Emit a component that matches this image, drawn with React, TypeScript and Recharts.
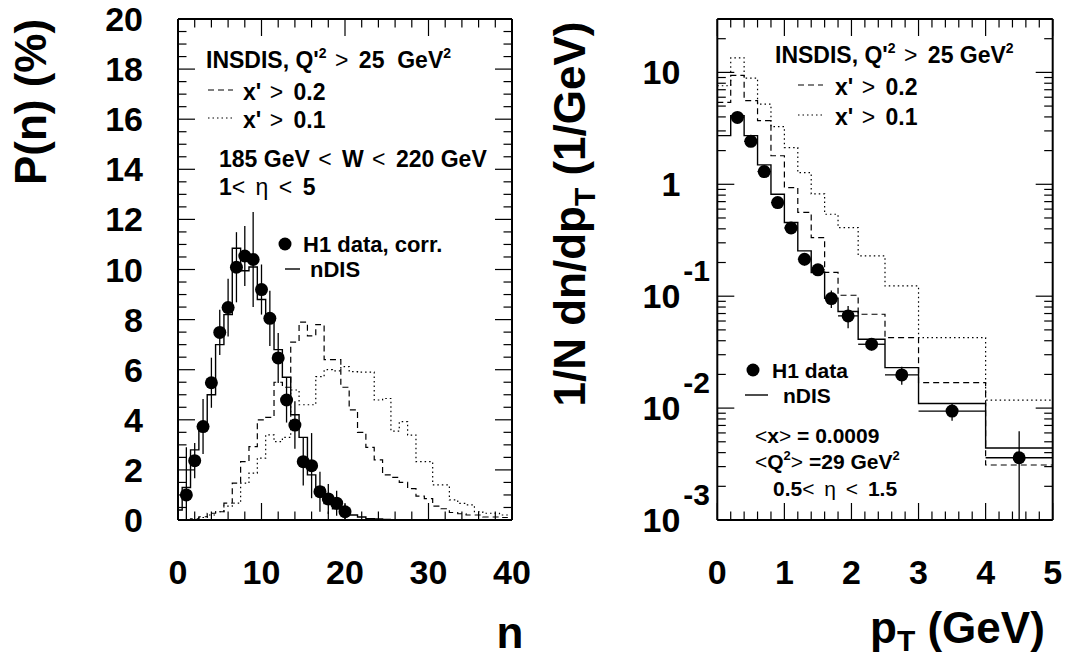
import React from 'react';
import { ComposedChart, Line, Scatter, ErrorBar, XAxis, YAxis } from 'recharts';

const FONT = '"Liberation Sans", Arial, Helvetica, sans-serif';

// ---------- left panel: charged multiplicity P(n) ----------
const multN = [1, 2, 3, 4, 5, 6, 7, 8, 9, 10, 11, 12, 13, 14, 15, 16, 17, 18, 19, 20];
const multData = [1.0, 2.37, 3.73, 5.48, 7.49, 8.48, 10.09, 10.54, 10.4, 9.2, 8.05, 6.47, 4.79, 3.79, 2.33, 2.17, 1.13, 0.84, 0.67, 0.33];
const multErr = [1.9, 0.7, 1.1, 1.0, 0.9, 1.15, 1.4, 1.2, 1.9, 1.0, 1.1, 1.0, 0.9, 0.95, 0.95, 1.3, 0.8, 0.6, 0.5, 0.3];
// histograms, one value per n = 0,1,2,...
const multNdis = [0.4, 1.3, 2.8, 3.6, 5.0, 7.0, 8.2, 10.85, 9.95, 10.1, 8.8, 8.0, 6.8, 5.7, 4.2, 3.3, 1.8, 1.3, 0.66, 0.45, 0.25, 0.2, 0.12, 0.05, 0.04, 0.02];
const multX02 = [0, 0, 0.05, 0.13, 0.27, 0.33, 0.67, 1.47, 2.33, 2.93, 4.0, 4.1, 5.5, 5.3, 7.1, 7.9, 7.35, 7.8, 6.4, 6.4, 5.3, 4.4, 3.5, 2.9, 2.4, 1.8, 1.7, 1.5, 1.25, 0.95, 0.85, 0.55, 0.45, 0.3, 0.25, 0.2, 0.2, 0.12, 0.12, 0.1];
const multX01 = [0, 0, 0, 0.1, 0.2, 0.33, 0.55, 0.67, 1.47, 1.87, 2.47, 3.4, 3.13, 3.3, 5.19, 4.6, 4.6, 5.72, 6.0, 5.95, 6.12, 5.92, 5.9, 5.9, 4.79, 4.85, 3.55, 3.93, 3.39, 2.33, 2.33, 1.4, 1.4, 0.8, 0.66, 0.6, 0.33, 0.27, 0.27, 0.2];

// ---------- right panel: pT spectrum ----------
const ptEdges = [0, 0.2, 0.4, 0.6, 0.8, 1.0, 1.2, 1.4, 1.6, 1.8, 2.1, 2.5, 3.0, 4.0, 5.0];
const ptNdis = [2.72, 4.1, 2.72, 1.49, 0.816, 0.455, 0.254, 0.163, 0.096, 0.073, 0.0412, 0.023, 0.011, 0.0044];
const ptX02 = [5.4, 9.4, 5.6, 3.7, 1.8, 0.935, 0.56, 0.334, 0.163, 0.102, 0.069, 0.0426, 0.0169, 0.0031];
const ptX01 = [7.6, 13.5, 8.9, 5.2, 3.27, 2.13, 1.27, 0.82, 0.54, 0.41, 0.229, 0.1235, 0.0426, 0.0118];
const ptCenters = [0.3, 0.5, 0.7, 0.9, 1.1, 1.3, 1.5, 1.7, 1.95, 2.3, 2.75, 3.5, 4.5];
const ptData = [3.96, 2.42, 1.3, 0.687, 0.407, 0.214, 0.172, 0.0953, 0.0667, 0.0372, 0.0198, 0.0094, 0.0036];
const ptErr = [0.25, 0.15, 0.08, 0.045, 0.03, 0.026, 0.02, 0.017, 0.015, 0.0045, 0.0036, 0.0017, 0.0026];

// tick positions (axis furniture)
const nTicks = Array.from({ length: 21 }, (_, i) => i * 2);
const pnTicks = Array.from({ length: 41 }, (_, i) => i * 0.5);
const ptTicks = Array.from({ length: 26 }, (_, i) => Math.round(i * 2) / 10);
const logTicks: number[] = [];
for (let e = -3; e <= 1; e++) {
  for (let m = 1; m <= 9; m++) {
    const v = parseFloat((m * Math.pow(10, e)).toPrecision(3));
    if (v <= 30.0001) logTicks.push(v);
  }
}

// histogram outlines for stepAfter lines
const unitSteps = (vals: number[]) => {
  const pts = vals.map((v, i) => ({ x: Math.max(0, i - 0.5), y: v }));
  pts.push({ x: vals.length - 0.5, y: vals[vals.length - 1] });
  return pts;
};
const edgeSteps = (vals: number[]) => {
  const pts = vals.map((v, i) => ({ x: ptEdges[i], y: v }));
  pts.push({ x: ptEdges[vals.length], y: vals[vals.length - 1] });
  return pts;
};

const multPoints = multN.map((n, i) => ({
  x: n,
  y: multData[i],
  ey: [Math.min(multErr[i], multData[i]), multErr[i]],
}));
const ptPoints = ptCenters.map((c, i) => ({
  x: c,
  y: ptData[i],
  ey: ptErr[i],
  ex: (ptEdges[i + 2] - ptEdges[i + 1]) / 2,
}));

const MAJOR = 17;
const MINOR = 8.5;
const LBL = 34;

const isMult = (v: number, step: number) => Math.abs(v / step - Math.round(v / step)) < 1e-6;
const isDecade = (v: number) => Math.abs(Math.log10(v) - Math.round(Math.log10(v))) < 1e-6;

const bottomTick = (major: (v: number) => boolean) => (p: any) => {
  const { x, y, payload } = p;
  const v = payload.value;
  const m = major(v);
  return (
    <g>
      <line x1={x} x2={x} y1={y} y2={y - (m ? MAJOR : MINOR)} stroke="#000" strokeWidth={1.2} />
      {m && (
        <text x={x} y={y + 64} textAnchor="middle" fontFamily={FONT} fontWeight="bold" fontSize={LBL} fill="#000">
          {String(Math.round(v))}
        </text>
      )}
    </g>
  );
};
const topTick = (major: (v: number) => boolean) => (p: any) => {
  const { x, y, payload } = p;
  const m = major(payload.value);
  return <line x1={x} x2={x} y1={y} y2={y + (m ? MAJOR : MINOR)} stroke="#000" strokeWidth={1.2} />;
};
const rightTick = (major: (v: number) => boolean) => (p: any) => {
  const { x, y, payload } = p;
  const m = major(payload.value);
  return <line x1={x} x2={x - (m ? MAJOR : MINOR)} y1={y} y2={y} stroke="#000" strokeWidth={1.2} />;
};
const linLeftTick = (p: any) => {
  const { x, y, payload } = p;
  const v = payload.value;
  const m = isMult(v, 2);
  return (
    <g>
      <line x1={x} x2={x + (m ? MAJOR : MINOR)} y1={y} y2={y} stroke="#000" strokeWidth={1.2} />
      {m && (
        <text x={x - 35} y={y + 12} textAnchor="end" fontFamily={FONT} fontWeight="bold" fontSize={LBL} fill="#000">
          {String(Math.round(v))}
        </text>
      )}
    </g>
  );
};
const logLeftTick = (p: any) => {
  const { x, y, payload } = p;
  const v = payload.value;
  const m = isDecade(v);
  const e = Math.round(Math.log10(v));
  return (
    <g>
      <line x1={x} x2={x + (m ? MAJOR : MINOR)} y1={y} y2={y} stroke="#000" strokeWidth={1.2} />
      {m && (
        <text x={x - 37} y={y + 12} textAnchor="end" fontFamily={FONT} fontWeight="bold" fontSize={LBL} fill="#000">
          {e === 0 ? '1' : '10'}
        </text>
      )}
      {m && e < 0 && (
        <text x={x - 34} y={y - 15} textAnchor="start" fontFamily={FONT} fontWeight="bold" fontSize={30} fill="#000">
          {String(e)}
        </text>
      )}
    </g>
  );
};

const axisLine = { stroke: '#000', strokeWidth: 2 };
const dot = (p: any) => <circle cx={p.cx} cy={p.cy} r={6.5} fill="#000" />;

const MultChart = () => (
  <ComposedChart width={540} height={659} margin={{ top: 18, right: 27, bottom: 109, left: 118 }}>
    <XAxis xAxisId="b" type="number" dataKey="x" domain={[0, 40]} ticks={nTicks} interval={0} allowDataOverflow
      tick={bottomTick((v) => isMult(v, 10))} tickLine={false} tickSize={0} tickMargin={0} axisLine={axisLine} height={30} />
    <XAxis xAxisId="t" orientation="top" type="number" dataKey="x" domain={[0, 40]} ticks={nTicks} interval={0} allowDataOverflow
      tick={topTick((v) => isMult(v, 10))} tickLine={false} tickSize={0} tickMargin={0} axisLine={axisLine} height={1} />
    <YAxis yAxisId="l" type="number" dataKey="y" domain={[0, 20]} ticks={pnTicks} interval={0} allowDataOverflow
      tick={linLeftTick} tickLine={false} tickSize={0} tickMargin={0} axisLine={axisLine} width={60} />
    <YAxis yAxisId="r" orientation="right" type="number" dataKey="y" domain={[0, 20]} ticks={pnTicks} interval={0} allowDataOverflow
      tick={rightTick((v) => isMult(v, 2))} tickLine={false} tickSize={0} tickMargin={0} axisLine={axisLine} width={1} />
    <Line xAxisId="t" yAxisId="r" data={unitSteps(multNdis)} dataKey="y" stroke="none" dot={false} activeDot={false} isAnimationActive={false} />
    <Line xAxisId="b" yAxisId="l" data={unitSteps(multX01)} dataKey="y" type="stepAfter" stroke="#000" strokeWidth={1.2}
      strokeDasharray="1.5 3" dot={false} activeDot={false} isAnimationActive={false} />
    <Line xAxisId="b" yAxisId="l" data={unitSteps(multX02)} dataKey="y" type="stepAfter" stroke="#000" strokeWidth={1.2}
      strokeDasharray="6 4" dot={false} activeDot={false} isAnimationActive={false} />
    <Line xAxisId="b" yAxisId="l" data={unitSteps(multNdis)} dataKey="y" type="stepAfter" stroke="#000" strokeWidth={1.4}
      dot={false} activeDot={false} isAnimationActive={false} />
    <Scatter xAxisId="b" yAxisId="l" data={multPoints} dataKey="y" shape={dot} isAnimationActive={false}>
      <ErrorBar dataKey="ey" direction="y" width={0} stroke="#000" strokeWidth={1.3} />
    </Scatter>
  </ComposedChart>
);

const PtChart = () => (
  <ComposedChart width={525} height={659} margin={{ top: 18, right: 11.3, bottom: 109, left: 117.3 }}>
    <XAxis xAxisId="b" type="number" dataKey="x" domain={[0, 5]} ticks={ptTicks} interval={0} allowDataOverflow
      tick={bottomTick((v) => isMult(v, 1))} tickLine={false} tickSize={0} tickMargin={0} axisLine={axisLine} height={30} />
    <XAxis xAxisId="t" orientation="top" type="number" dataKey="x" domain={[0, 5]} ticks={ptTicks} interval={0} allowDataOverflow
      tick={topTick((v) => isMult(v, 1))} tickLine={false} tickSize={0} tickMargin={0} axisLine={axisLine} height={1} />
    <YAxis yAxisId="l" type="number" scale="log" dataKey="y" domain={[0.001, 30]} ticks={logTicks} interval={0} allowDataOverflow
      tick={logLeftTick} tickLine={false} tickSize={0} tickMargin={0} axisLine={axisLine} width={60} />
    <YAxis yAxisId="r" orientation="right" type="number" scale="log" dataKey="y" domain={[0.001, 30]} ticks={logTicks} interval={0} allowDataOverflow
      tick={rightTick(isDecade)} tickLine={false} tickSize={0} tickMargin={0} axisLine={axisLine} width={1} />
    <Line xAxisId="t" yAxisId="r" data={edgeSteps(ptNdis)} dataKey="y" stroke="none" dot={false} activeDot={false} isAnimationActive={false} />
    <Line xAxisId="b" yAxisId="l" data={edgeSteps(ptX01)} dataKey="y" type="stepAfter" stroke="#000" strokeWidth={1.2}
      strokeDasharray="1.5 3" dot={false} activeDot={false} isAnimationActive={false} />
    <Line xAxisId="b" yAxisId="l" data={edgeSteps(ptX02)} dataKey="y" type="stepAfter" stroke="#000" strokeWidth={1.2}
      strokeDasharray="6 4" dot={false} activeDot={false} isAnimationActive={false} />
    <Line xAxisId="b" yAxisId="l" data={edgeSteps(ptNdis)} dataKey="y" type="stepAfter" stroke="#000" strokeWidth={1.4}
      dot={false} activeDot={false} isAnimationActive={false} />
    <Scatter xAxisId="b" yAxisId="l" data={ptPoints} dataKey="y" shape={dot} isAnimationActive={false}>
      <ErrorBar dataKey="ey" direction="y" width={0} stroke="#000" strokeWidth={1.3} />
      <ErrorBar dataKey="ex" direction="x" width={0} stroke="#000" strokeWidth={1.3} />
    </Scatter>
  </ComposedChart>
);

const T = { fontFamily: FONT, fontWeight: 'bold' as const, fill: '#000' };
const sym = { fontWeight: 'normal' as const, letterSpacing: 2 };

const Overlay = () => (
  <svg width={1065} height={659} style={{ position: 'absolute', left: 0, top: 0, pointerEvents: 'none' }}>
    {/* axis titles */}
    <text {...T} fontSize={44} transform="translate(46,102) rotate(-90)" textAnchor="middle">P(n) (%)</text>
    <text {...T} fontSize={44} x={510} y={648} textAnchor="middle">n</text>
    <text {...T} fontSize={44} transform="translate(585,214) rotate(-90)" textAnchor="middle">
      1/N dn/dp<tspan fontSize={30} dy={10}>T</tspan><tspan dy={-10}> (1/GeV)</tspan>
    </text>
    <text {...T} fontSize={44} x={870} y={643}>
      p<tspan fontSize={30} dy={8}>T</tspan><tspan dy={-8}> (GeV)</tspan>
    </text>

    {/* left legend */}
    <text {...T} fontSize={23} x={206} y={68}>
      INSDIS, Q'<tspan fontSize={14} dy={-10}>2</tspan><tspan dy={10} {...sym}> &gt; </tspan>25{'\u00a0'} GeV<tspan fontSize={14} dy={-10}>2</tspan>
    </text>
    <line x1={208} x2={233} y1={90} y2={90} stroke="#000" strokeWidth={1.2} strokeDasharray="6 4" />
    <text {...T} fontSize={23} x={243} y={100}>x'<tspan {...sym}> &gt; </tspan>0.2</text>
    <line x1={208} x2={233} y1={118} y2={118} stroke="#000" strokeWidth={1.2} strokeDasharray="1.5 3" />
    <text {...T} fontSize={23} x={243} y={128}>x'<tspan {...sym}> &gt; </tspan>0.1</text>
    <text {...T} fontSize={23} x={219} y={167}>185 GeV<tspan {...sym}> &lt; </tspan>W<tspan {...sym}> &lt; </tspan>220 GeV</text>
    <text {...T} fontSize={23} x={219} y={195}>1<tspan {...sym}>&lt; η &lt; </tspan>5</text>
    <circle cx={285} cy={244} r={6.5} fill="#000" />
    <text {...T} fontSize={22} x={303} y={252}>H1 data, corr.</text>
    <line x1={285} x2={300} y1={269} y2={269} stroke="#000" strokeWidth={1.4} />
    <text {...T} fontSize={22} x={310} y={277}>nDIS</text>

    {/* right legend */}
    <text {...T} fontSize={23} x={775} y={63}>
      INSDIS, Q'<tspan fontSize={14} dy={-10}>2</tspan><tspan dy={10} {...sym}> &gt; </tspan>25 GeV<tspan fontSize={14} dy={-10}>2</tspan>
    </text>
    <line x1={798} x2={823} y1={85} y2={85} stroke="#000" strokeWidth={1.2} strokeDasharray="6 4" />
    <text {...T} fontSize={23} x={835} y={95}>x'<tspan {...sym}> &gt; </tspan>0.2</text>
    <line x1={798} x2={823} y1={115} y2={115} stroke="#000" strokeWidth={1.2} strokeDasharray="1.5 3" />
    <text {...T} fontSize={23} x={835} y={125}>x'<tspan {...sym}> &gt; </tspan>0.1</text>
    <circle cx={753} cy={370} r={6.5} fill="#000" />
    <text {...T} fontSize={21} x={772} y={378}>H1 data</text>
    <line x1={745} x2={768} y1={395} y2={395} stroke="#000" strokeWidth={1.4} />
    <text {...T} fontSize={21} x={783} y={403}>nDIS</text>
    <text {...T} fontSize={21} x={755} y={443}><tspan fontWeight="normal">&lt;</tspan>x<tspan fontWeight="normal">&gt;</tspan> = 0.0009</text>
    <text {...T} fontSize={21} x={755} y={469}>
      <tspan fontWeight="normal">&lt;</tspan>Q<tspan fontSize={13} dy={-9}>2</tspan><tspan dy={9} fontWeight="normal">&gt;</tspan> =29 GeV<tspan fontSize={13} dy={-9}>2</tspan>
    </text>
    <text {...T} fontSize={21} x={773} y={496}>0.5<tspan {...sym}>&lt; η &lt; </tspan>1.5</text>
  </svg>
);

export default function App() {
  return (
    <div style={{ position: 'absolute', left: 0, top: 0, width: 1065, height: 659, background: '#fff' }}>
      <div style={{ position: 'absolute', left: 0, top: 0 }}>
        <MultChart />
      </div>
      <div style={{ position: 'absolute', left: 540, top: 0 }}>
        <PtChart />
      </div>
      <Overlay />
    </div>
  );
}
